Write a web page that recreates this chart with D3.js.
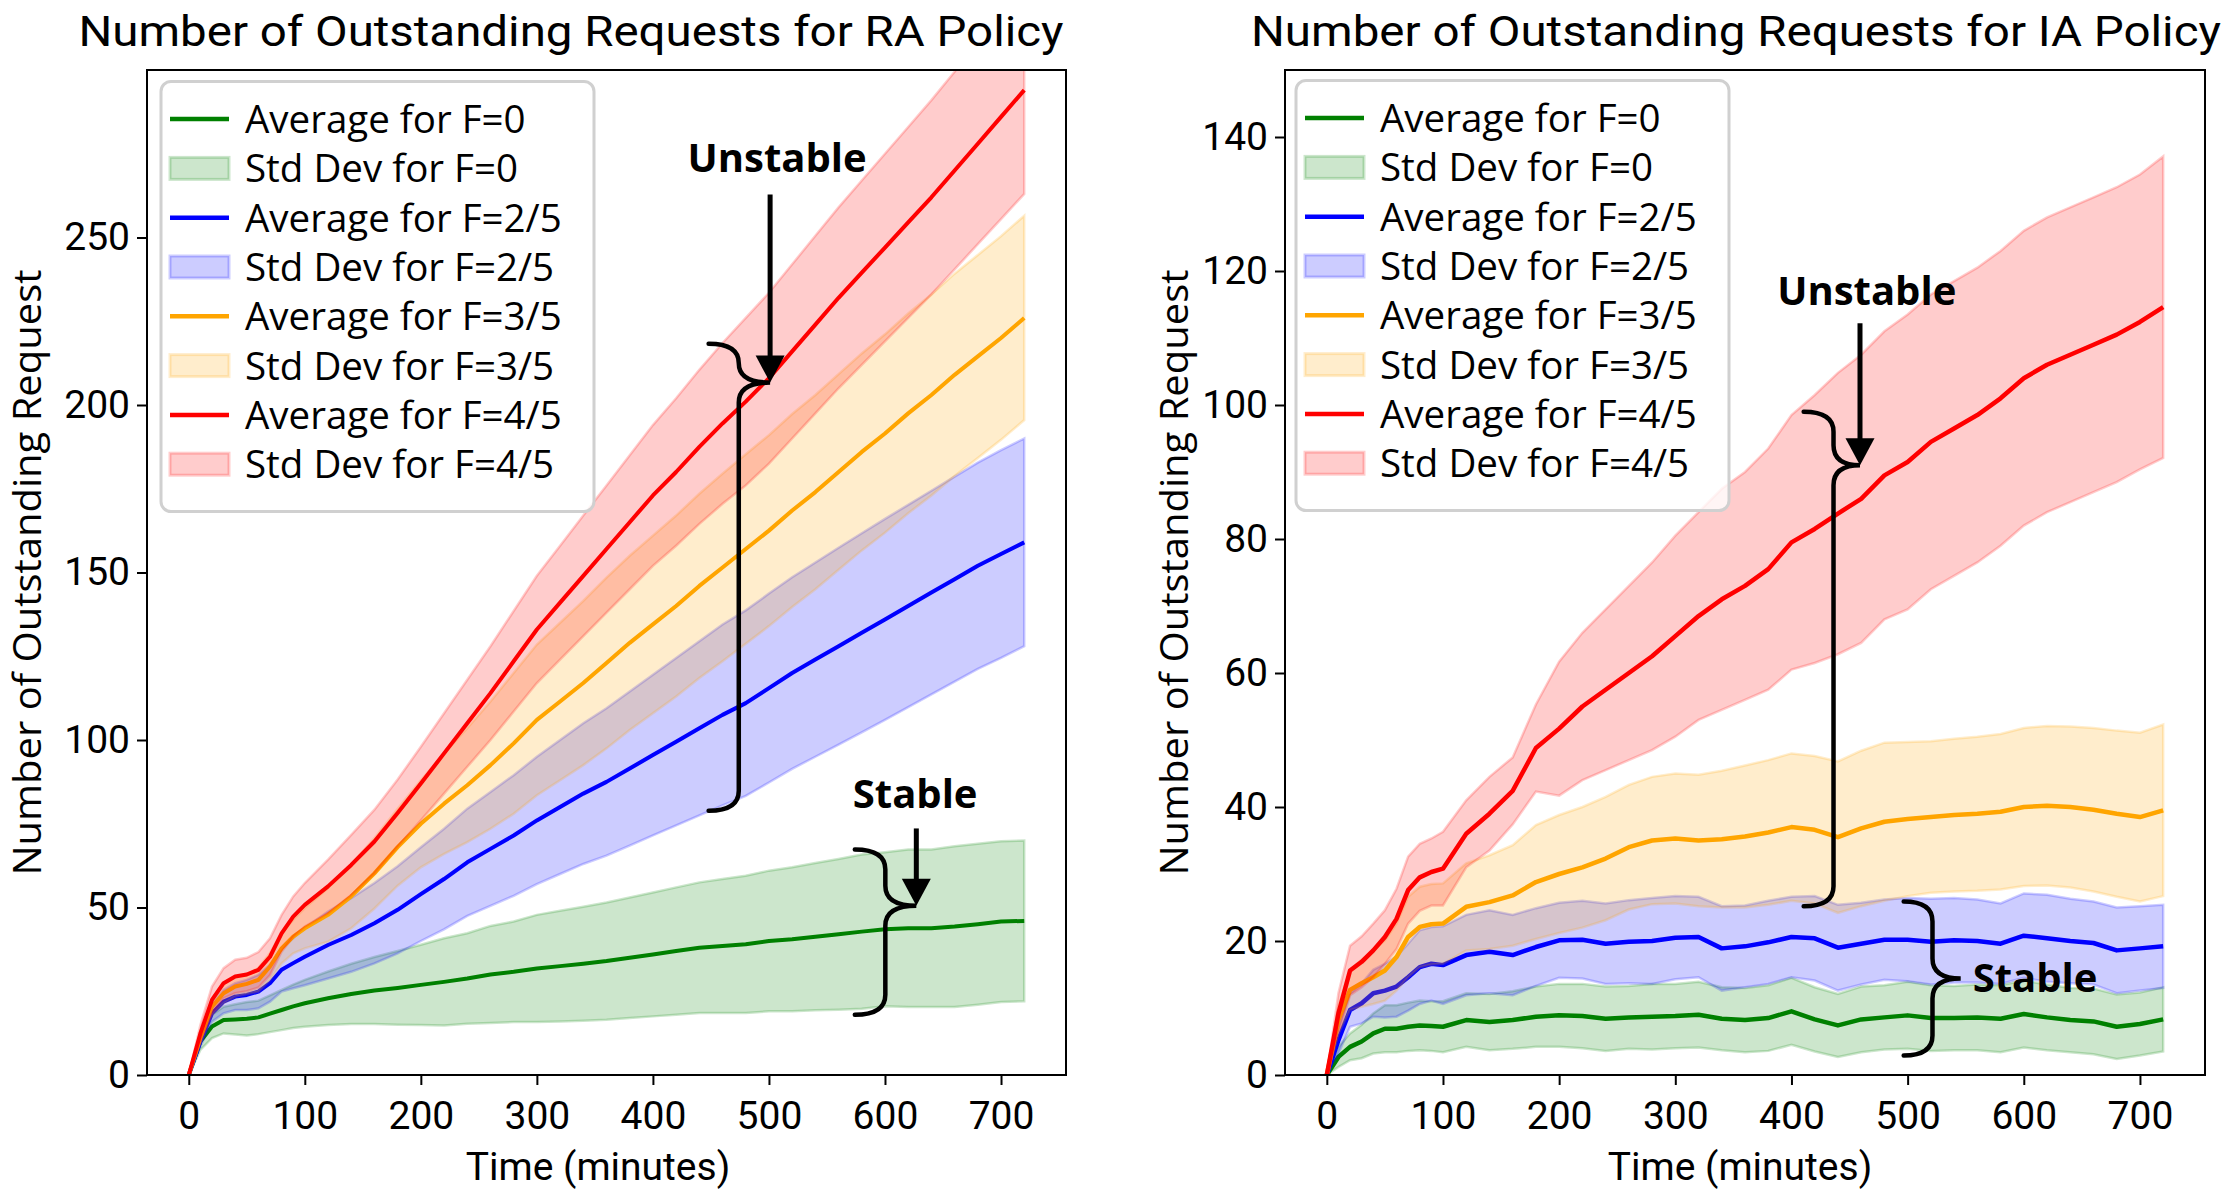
<!DOCTYPE html>
<html>
<head>
<meta charset="utf-8">
<script src="https://cdn.jsdelivr.net/npm/d3@7"></script>
<style>
  body { margin: 0; background: #fff; overflow: hidden; }
</style>
</head>
<body>
<svg id="chart" width="2232" height="1195"></svg>
<script>
// time axis (minutes) shared by every series
var minutes = [0,10,20,30,40,50,60,70,80,90,100,
  120,140,160,180,200,220,240,260,280,300,320,340,360,380,400,
  420,440,460,480,500,520,540,560,580,600,620,640,660,680,700,720];

var timeTicks = [0,100,200,300,400,500,600,700];
var raTicks = [0,50,100,150,200,250];
var iaTicks = [0,20,40,60,80,100,120,140];

// RA policy (left)
var ra_f0_mean = [0,10,14.5,16.4,16.6,16.8,17.2,18.3,19.4,20.5,21.4,
  22.9,24.2,25.2,26,26.9,27.8,28.8,30,30.8,31.8,32.5,33.2,34,35,36,
  37,38,38.5,39,40,40.5,41.3,42,42.8,43.5,43.8,43.8,44.3,45,45.8,46];
var ra_f0_std = [0,2.5,3.5,4,4.5,5,5,5.5,6,6.5,7,
  8,9,10,11,12,13,13.5,14.5,15,16,16.5,17,17.5,18,18.5,
  19,19.5,20,20.5,21,21.5,22,22.5,23,23,23.5,23.5,24,24,24,24];
var ra_f2_mean = [0,10,18.4,21.9,23.4,23.9,24.9,27.4,31.4,33.4,35.3,
  38.8,41.8,45.3,49.3,54,58.5,63.5,67.5,71.5,76,80,84,87.5,91.5,95.5,
  99.5,103.5,107.5,111,115.5,120,124,128,132,136,140,144,148,152,155.5,159];
var ra_f2_std = [0,1.5,2.5,3.5,4,4.5,5,5.5,6.5,7.5,8.5,
  10,11,12,13,14,15,16,17,18,19,20,21,22,23,24,
  25,26,27,27.7,28.2,28.6,29,29.4,29.7,30,30.2,30.4,30.6,30.8,31,31];
var ra_f3_mean = [0,11,20.4,24.4,26.4,27.2,28.4,32.4,37.8,41.3,43.8,
  47.8,53.3,60.2,68,75,81,86.5,92.5,99,106,111.5,117,123,129,134.5,
  140,146,151.5,157,162.5,168.5,174,180,186,191.5,197.5,203,209,214.5,220,226];
var ra_f3_std = [0,1.5,2.5,3,3,3,3.5,4,4.5,5,6,
  8,9.5,10.5,11.5,13,15,17,19,21,22.5,23.5,24.5,25.5,26,26.5,
  27,27.5,28,28.3,28.5,28.8,29,29.2,29.4,29.6,29.8,30,30.2,30.3,30.4,30.5];
var ra_f4_mean = [0,12.4,22.4,27.4,29.4,30,31.4,35.3,42.3,47.3,50.8,
  56.3,62.7,69.7,78.2,87,96,105,114,123.5,133,141,149,157,165,173,
  180,187.5,194.5,201,208,216,224,232,239.5,247,254.5,262,270,278,286,294];
var ra_f4_std = [0,2.5,4,4.5,5,5,5.3,5.5,5.5,6,6.5,
  8,9,9.5,10,11,12,13,14,15,16,17,18,19,20,21,
  22,23,24,25,25.5,26,26.5,27,27.5,28,28.5,29,29.5,30,30.5,31];

// IA policy (right)
var ia_f0_mean = [0,2.7,4.2,5,6.2,6.9,6.9,7.2,7.4,7.3,7.2,
  8.2,7.9,8.2,8.7,8.9,8.8,8.4,8.6,8.7,8.8,9,8.4,8.2,8.5,9.5,
  8.3,7.4,8.3,8.6,8.9,8.5,8.5,8.6,8.4,9.1,8.6,8.2,8,7.2,7.6,8.3];
var ia_f0_std = [0,1.5,2,2.5,3,3.5,3.5,3.6,3.7,3.7,3.8,
  4,4.2,4.3,4.5,4.7,4.8,4.8,4.7,4.9,4.8,4.9,4.7,4.8,4.9,5,
  4.8,4.7,4.9,4.8,5,4.9,4.8,4.9,5,5,4.9,4.8,4.9,4.8,4.7,4.8];
var ia_f2_mean = [0,5.2,9.7,10.7,12.2,12.6,13.2,14.6,16.1,16.6,16.4,
  17.9,18.4,17.9,19.1,20.1,20.2,19.6,19.9,20,20.5,20.6,18.9,19.2,19.8,20.6,
  20.4,19,19.6,20.2,20.2,19.9,20.1,20,19.6,20.8,20.4,20,19.7,18.6,18.9,19.2];
var ia_f2_std = [0,2,2.5,3,3.5,4,4.5,5,5.5,5.5,5.8,
  6,6.2,6,5.8,5.6,5.8,6,6.2,6.4,6.2,6,6.3,6.1,6.2,6,
  6.3,6.4,6.1,6,6.2,6.4,6.3,6.2,6,6.3,6.5,6.3,6.2,6.4,6.3,6.2];
var ia_f3_mean = [0,8.2,12.7,13.7,14.6,15.6,17.6,20.6,22.1,22.5,22.6,
  25.1,25.8,26.8,28.8,30,31,32.3,34,35,35.3,35,35.2,35.6,36.2,37,
  36.6,35.5,36.8,37.8,38.2,38.5,38.8,39,39.3,40,40.2,40,39.6,39,38.5,39.5];
var ia_f3_std = [0,2,3,3.5,4,4.5,5,6,6,6,6,
  6.5,7,7.5,8.5,8.8,9,9.2,9.3,9.5,9.7,9.8,10.2,10.6,10.8,11,
  11,11.3,11.6,11.8,11.5,11.3,11.4,11.5,11.6,11.8,11.9,12,12.2,12.4,12.6,12.8];
var ia_f4_mean = [0,9.2,15.6,16.9,18.6,20.6,23.3,27.6,29.5,30.3,30.8,
  36,39,42.4,48.8,51.7,55,57.5,60,62.5,65.5,68.5,71,73,75.5,79.5,
  81.5,83.8,86,89.5,91.5,94.5,96.5,98.5,101,104,106,107.5,109,110.5,112.4,114.6];
var ia_f4_std = [0,3,3.7,3.8,4,4,4.5,5,5,5,5.5,
  5,5.5,5,6.5,10,11,12,13,14,15,15.5,16.5,17,18,19,
  20,21,21.5,21.5,22,22,22,22,22,22,22,22,22,22,22,22.5];

var fractions = ["0", "2/5", "3/5", "4/5"];

// annotations in data units (t = minutes, v = requests)
var raNotes = [
  {label: "Unstable", tx: 507, ty: 269.6, anchor: "middle", arrowFrom: 262.8, tipT: 501, tipV: 206.7, endT: 448, spineT: 474, top: 218.3, bottom: 78.9},
  {label: "Stable", tx: 626, ty: 79.8, anchor: "middle", arrowFrom: 73.6, tipT: 627, tipV: 50.5, endT: 574, spineT: 600.3, top: 67.3, bottom: 18}
];
var iaNotes = [
  {label: "Unstable", tx: 464.8, ty: 115, anchor: "middle", arrowFrom: 112.2, tipT: 459, tipV: 91, endT: 410.5, spineT: 436.2, top: 99, bottom: 25.2},
  {label: "Stable", tx: 556, ty: 12.4, anchor: "start", arrowFrom: null, tipT: 545.7, tipV: 14.4, endT: 496.6, spineT: 521.4, top: 25.9, bottom: 2.9}
];

var seriesColors = ["green", "blue", "orange", "red"];
var tickFont = "Roboto, 'Liberation Sans', sans-serif";
var textFont = "'Open Sans', 'Noto Sans', sans-serif";

var svg = d3.select("#chart");

function bracePath(x0, xs, xt, yTop, yTip, yBot) {
  var r1 = Math.min(20, (yTip - yTop) / 2),
      r2 = Math.min(20, (yBot - yTip) / 2);
  return "M" + x0 + "," + yTop +
    " Q" + xs + "," + yTop + " " + xs + "," + (yTop + r1) +
    " L" + xs + "," + (yTip - r1) +
    " Q" + xs + "," + yTip + " " + xt + "," + yTip +
    " Q" + xs + "," + yTip + " " + xs + "," + (yTip + r2) +
    " L" + xs + "," + (yBot - r2) +
    " Q" + xs + "," + yBot + " " + x0 + "," + yBot;
}

function drawPanel(p, means, stds, yTicks, notes) {
  var x = d3.scaleLinear().domain([-36, 756]).range([p.left, p.right]);
  var y = d3.scaleLinear().domain([0, p.yMax]).range([p.bottom, p.top]);

  svg.append("clipPath").attr("id", "clip-" + p.id)
    .append("rect")
      .attr("x", p.left).attr("y", p.top)
      .attr("width", p.right - p.left).attr("height", p.bottom - p.top);

  var plot = svg.append("g").attr("clip-path", "url(#clip-" + p.id + ")");

  means.forEach(function(mean, k) {
    var std = stds[k], col = seriesColors[k];
    var line = d3.line()
      .x(function(d, i) { return x(minutes[i]); })
      .y(function(d) { return y(d); });
    var band = d3.area()
      .x(function(d, i) { return x(minutes[i]); })
      .y0(function(d, i) { return y(d - std[i]); })
      .y1(function(d, i) { return y(d + std[i]); });

    plot.append("path")
      .datum(mean)
      .attr("fill", "none")
      .attr("stroke", col)
      .attr("stroke-width", p.lw)
      .attr("stroke-linejoin", "round")
      .attr("d", line);

    plot.append("path")
      .datum(mean)
      .attr("fill", col).attr("fill-opacity", 0.2)
      .attr("stroke", col).attr("stroke-opacity", 0.2)
      .attr("stroke-width", 2.5)
      .attr("d", band);
  });

  // axes
  var xa = svg.append("g")
    .attr("transform", "translate(0," + p.bottom + ")")
    .call(d3.axisBottom(x).tickValues(timeTicks).tickSize(10).tickPadding(16));
  var ya = svg.append("g")
    .attr("transform", "translate(" + p.left + ",0)")
    .call(d3.axisLeft(y).tickValues(yTicks).tickSize(10).tickPadding(7));
  [xa, ya].forEach(function(a) {
    a.select(".domain").remove();
    a.selectAll(".tick line").attr("stroke", "#000").attr("stroke-width", 2);
    a.selectAll(".tick text")
      .attr("fill", "#000")
      .style("font-family", tickFont)
      .style("font-size", "39px");
  });

  svg.append("rect")
    .attr("x", p.left).attr("y", p.top)
    .attr("width", p.right - p.left).attr("height", p.bottom - p.top)
    .attr("fill", "none").attr("stroke", "#000").attr("stroke-width", 2);

  // titles and labels
  svg.append("text")
    .attr("x", p.titleX).attr("y", 46)
    .attr("text-anchor", "middle")
    .attr("textLength", p.titleLen).attr("lengthAdjust", "spacingAndGlyphs")
    .style("font-family", tickFont).style("font-size", "42px")
    .text(p.title);

  svg.append("text")
    .attr("x", p.xLabelX).attr("y", 1180)
    .attr("text-anchor", "middle")
    .style("font-family", tickFont).style("font-size", "39px")
    .text("Time (minutes)");

  svg.append("text")
    .attr("transform", "translate(" + p.yLabelX + "," + ((p.top + p.bottom) / 2) + ") rotate(-90)")
    .attr("text-anchor", "middle")
    .attr("textLength", 606).attr("lengthAdjust", "spacingAndGlyphs")
    .style("font-family", textFont).style("font-size", "38px")
    .text("Number of Outstanding Request");

  // legend
  var lg = svg.append("g").attr("transform", "translate(" + p.legendX + "," + p.legendY + ")");
  lg.append("rect")
    .attr("width", 433).attr("height", 430).attr("rx", 10)
    .attr("fill", "#fff").attr("fill-opacity", 0.8)
    .attr("stroke", "#d0d0d0").attr("stroke-width", 3);
  fractions.forEach(function(f, k) {
    var col = seriesColors[k];
    var cy1 = 37.6 + (2 * k) * 49.3, cy2 = 37.6 + (2 * k + 1) * 49.3;
    lg.append("line")
      .attr("x1", 9).attr("x2", 68).attr("y1", cy1).attr("y2", cy1)
      .attr("stroke", col).attr("stroke-width", 4.5);
    lg.append("text").attr("x", 84).attr("y", cy1 + 14)
      .style("font-family", textFont).style("font-size", "38.5px")
      .text("Average for F=" + f);
    lg.append("rect")
      .attr("x", 9).attr("y", cy2 - 11).attr("width", 59).attr("height", 22)
      .attr("fill", col).attr("fill-opacity", 0.2)
      .attr("stroke", col).attr("stroke-opacity", 0.2).attr("stroke-width", 3);
    lg.append("text").attr("x", 84).attr("y", cy2 + 14)
      .style("font-family", textFont).style("font-size", "38.5px")
      .text("Std Dev for F=" + f);
  });

  // stable / unstable annotations
  notes.forEach(function(n) {
    svg.append("text")
      .attr("x", x(n.tx)).attr("y", y(n.ty))
      .attr("text-anchor", n.anchor)
      .style("font-family", textFont).style("font-size", "40px").style("font-weight", "bold")
      .text(n.label);

    svg.append("path")
      .attr("d", bracePath(x(n.endT), x(n.spineT), x(n.tipT), y(n.top), y(n.tipV), y(n.bottom)))
      .attr("fill", "none").attr("stroke", "#000")
      .attr("stroke-width", 4.5).attr("stroke-linecap", "round");

    if (n.arrowFrom !== null) {
      var ax = x(n.tipT), tip = y(n.tipV), head = 27;
      svg.append("line")
        .attr("x1", ax).attr("x2", ax)
        .attr("y1", y(n.arrowFrom)).attr("y2", tip - head + 2)
        .attr("stroke", "#000").attr("stroke-width", 5);
      svg.append("path")
        .attr("d", "M" + (ax - 14.5) + "," + (tip - head) + " L" + (ax + 14.5) + "," + (tip - head) + " L" + ax + "," + tip + " Z")
        .attr("fill", "#000");
    }
  });
}

drawPanel(
  {id: "ra", left: 147, right: 1066, top: 70, bottom: 1075, yMax: 300, lw: 4,
   title: "Number of Outstanding Requests for RA Policy", titleX: 571, titleLen: 985,
   xLabelX: 598, yLabelX: 41, legendX: 161, legendY: 81.5},
  [ra_f0_mean, ra_f2_mean, ra_f3_mean, ra_f4_mean],
  [ra_f0_std, ra_f2_std, ra_f3_std, ra_f4_std],
  raTicks, raNotes);

drawPanel(
  {id: "ia", left: 1285, right: 2205, top: 70, bottom: 1075, yMax: 150, lw: 4.5,
   title: "Number of Outstanding Requests for IA Policy", titleX: 1736, titleLen: 970,
   xLabelX: 1740, yLabelX: 1188, legendX: 1296, legendY: 80.5},
  [ia_f0_mean, ia_f2_mean, ia_f3_mean, ia_f4_mean],
  [ia_f0_std, ia_f2_std, ia_f3_std, ia_f4_std],
  iaTicks, iaNotes);
</script>
</body>
</html>
